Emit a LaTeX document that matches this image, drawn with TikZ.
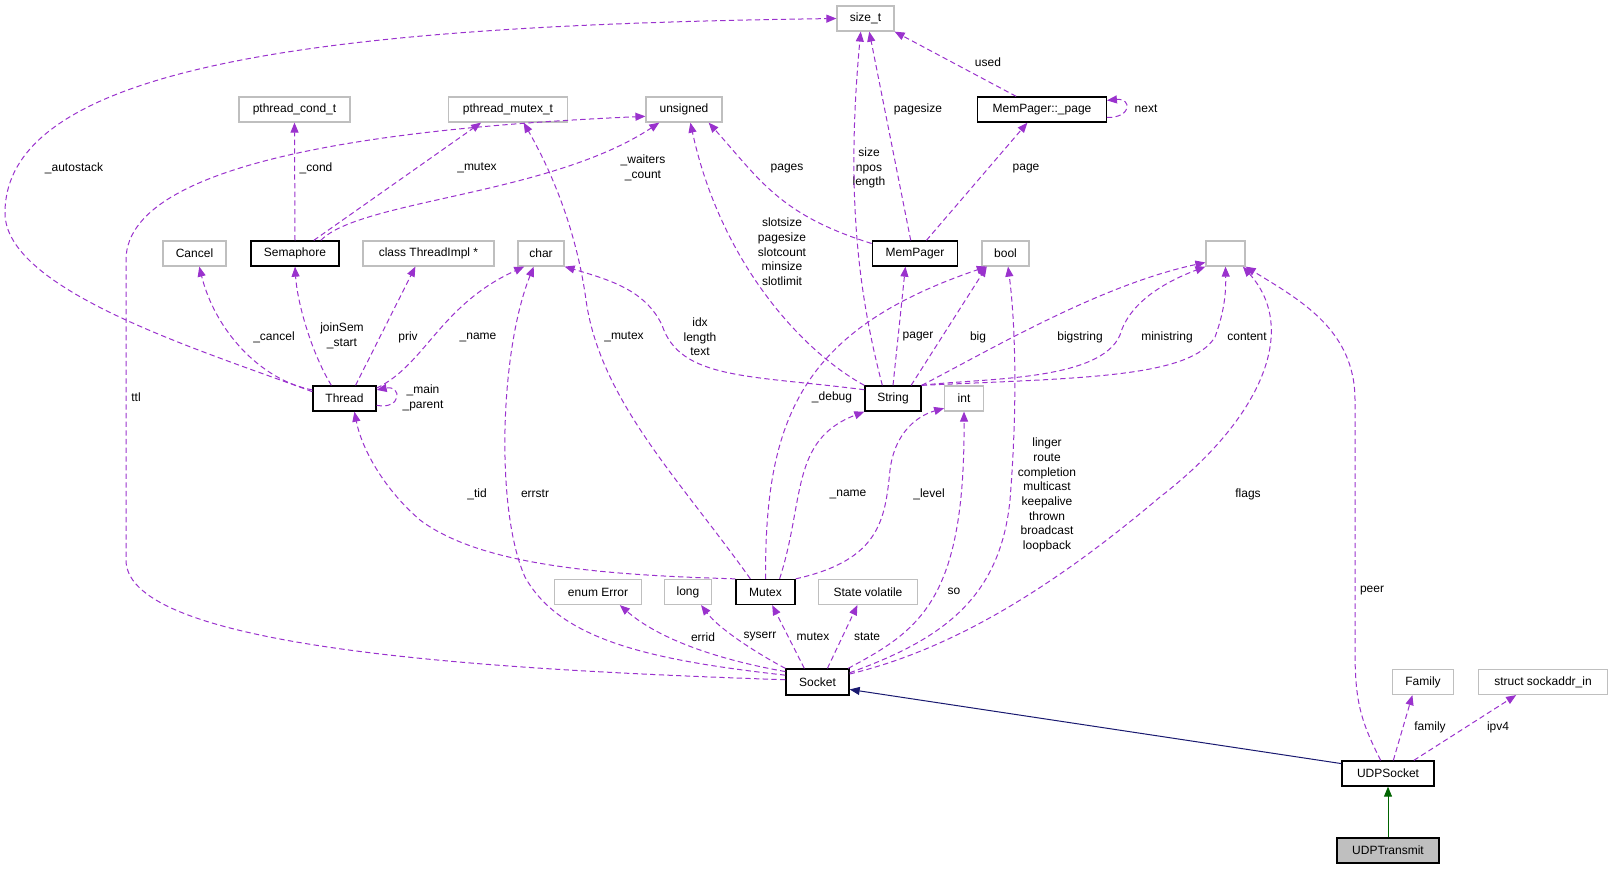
\documentclass[tikz,border=0pt]{standalone}
\usepackage{fontspec}
\setmainfont{Liberation Sans}
\usetikzlibrary{arrows.meta}
\definecolor{usecol}{HTML}{9A32CD}
\definecolor{inhcol}{HTML}{191970}
\definecolor{pubcol}{HTML}{006400}
\definecolor{boxgray}{HTML}{BFBFBF}
\tikzset{
  cls/.style={draw=black, line width=1pt, minimum height=18.75pt, inner sep=0pt, fill=white},
  ext/.style={draw=boxgray, line width=0.9pt, minimum height=18.75pt, inner sep=0pt, fill=white},
  lbl/.style={align=center, inner sep=0pt},
  usage/.style={usecol, line width=0.75pt, dash pattern=on 4pt off 2.5pt, -{Triangle[length=7.5pt,width=6pt]}},
  inherit/.style={line width=0.75pt, -{Triangle[length=7.5pt,width=6pt]}},
}

\begin{document}
\begin{tikzpicture}[x=0.75pt, y=-0.75pt, font=\fontsize{9pt}{11pt}\selectfont]
\useasboundingbox (0,0) rectangle (1614,869);
% classes
\node[ext, minimum width=42.75pt] (sizet) at (865.5,18.5) {size\_t};
\node[ext, minimum width=83.25pt] (condt) at (294.5,109.5) {pthread\_cond\_t};
\node[ext, minimum width=88.9pt] (mutext) at (508,109.5) {pthread\_mutex\_t};
\node[ext, minimum width=57pt] (unsig) at (684,109.5) {unsigned};
\node[cls, minimum width=96.4pt] (page) at (1042,109.5) {MemPager::\_page};
\node[ext, minimum width=47.25pt] (cancel) at (194.5,253.5) {Cancel};
\node[cls, minimum width=66pt] (sem) at (295,253.5) {Semaphore};
\node[ext, minimum width=98.25pt] (timpl) at (428.5,253.5) {class ThreadImpl *};
\node[ext, minimum width=34.5pt] (char) at (541,253.5) {char};
\node[cls, minimum width=64.1pt] (mempager) at (915,253.5) {MemPager};
\node[ext, minimum width=35.25pt] (bool) at (1005.5,253.5) {bool};
\node[ext, minimum width=29.25pt] (blank) at (1225.5,253.5) {};
\node[cls, minimum width=47.25pt] (thread) at (344.5,398.5) {Thread};
\node[cls, minimum width=42pt] (string) at (893,398.5) {String};
\node[ext, minimum width=28.9pt] (int) at (964,398.5) {int};
\node[ext, minimum width=65.6pt] (enumerr) at (598,592) {enum Error};
\node[ext, minimum width=35.6pt] (long) at (688,592) {long};
\node[cls, minimum width=44.25pt] (mutex) at (765.5,592) {Mutex};
\node[ext, minimum width=74.25pt] (state) at (868,592) {State volatile};
\node[cls, minimum width=47.25pt, minimum height=19.5pt] (socket) at (817.5,682) {Socket};
\node[ext, minimum width=46.1pt] (family) at (1423,682) {Family};
\node[ext, minimum width=97.1pt] (sockaddr) at (1543,682) {struct sockaddr\_in};
\node[cls, minimum width=69pt] (udpsocket) at (1388,773.5) {UDPSocket};
\node[cls, fill=boxgray, minimum width=76.5pt] (udptrans) at (1388,850.5) {UDPTransmit};

% member labels
\node[lbl] (l-autostack) at (74,168) {\_autostack};
\node[lbl] (l-cond) at (316,168) {\_cond};
\node[lbl] (l-semmutex) at (477,168) {\_mutex};
\node[lbl] (l-waiters) at (643,168) {\_waiters\\\_count};
\node[lbl] (l-pages) at (787,169) {pages};
\node[lbl] (l-size) at (869,168) {size\\npos\\length};
\node[lbl] (l-pagesize) at (918,109) {pagesize};
\node[lbl] (l-used) at (988,62) {used};
\node[lbl] (l-next) at (1146,109) {next};
\node[lbl] (l-page) at (1026,169) {page};
\node[lbl] (l-slotsize) at (782,252) {slotsize\\pagesize\\slotcount\\minsize\\slotlimit};
\node[lbl] (l-ttl) at (136,397) {ttl};
\node[lbl] (l-cancel) at (274,337) {\_cancel};
\node[lbl] (l-joinsem) at (342,336) {joinSem\\\_start};
\node[lbl] (l-priv) at (408,337) {priv};
\node[lbl] (l-tname) at (478,337) {\_name};
\node[lbl] (l-main) at (423,398) {\_main\\\_parent};
\node[lbl] (l-tid) at (477,494) {\_tid};
\node[lbl] (l-errstr) at (535,494) {errstr};
\node[lbl] (l-mmutex) at (624,337) {\_mutex};
\node[lbl] (l-idx) at (700,337) {idx\\length\\text};
\node[lbl] (l-pager) at (918,337) {pager};
\node[lbl] (l-big) at (978,337) {big};
\node[lbl] (l-bigstring) at (1080,337) {bigstring};
\node[lbl] (l-ministring) at (1167,337) {ministring};
\node[lbl] (l-content) at (1247,337) {content};
\node[lbl] (l-debug) at (832,397) {\_debug};
\node[lbl] (l-linger) at (1047,495) {linger\\route\\completion\\multicast\\keepalive\\thrown\\broadcast\\loopback};
\node[lbl] (l-flags) at (1248,494) {flags};
\node[lbl] (l-mname) at (848,494) {\_name};
\node[lbl] (l-level) at (929,494) {\_level};
\node[lbl] (l-peer) at (1372,591) {peer};
\node[lbl] (l-so) at (954,591) {so};
\node[lbl] (l-errid) at (703,637) {errid};
\node[lbl] (l-syserr) at (760,637) {syserr};
\node[lbl] (l-mutex) at (813,637) {mutex};
\node[lbl] (l-state) at (867,637) {state};
\node[lbl] (l-family) at (1430,727) {family};
\node[lbl] (l-ipv4) at (1498,727) {ipv4};

% usage edges
\draw[usage] (thread.168) .. controls (200,350) and (5,290) .. (5,213) .. controls (5,60) and (350,25) .. (sizet.west);
\draw[usage] (socket.176) .. controls (500,670) and (126,650) .. (126,560) -- (126,260) .. controls (126,150) and (450,125) .. (unsig.190);
\draw[usage] (sem.north) -- (condt.south);
\draw[usage] (sem.35) -- (mutext.206);
\draw[usage] (sem.27) .. controls (360,200) and (550,195) .. (unsig.208);
\draw[usage] (thread.165) .. controls (260,380) and (215,330) .. (cancel.290);
\draw[usage] (thread.135) .. controls (310,350) and (297,300) .. (sem.south);
\draw[usage] (thread.50) -- (timpl.225);
\draw[usage] (thread.18) .. controls (425,365) and (440,305) .. (char.218);
\draw[usage] (thread.348) .. controls (402,410) and (402,385) .. (thread.15);
\draw[usage] (mutex.north west) .. controls (600,575) and (480,565) .. (420,520) .. controls (385,490) and (362,450) .. (thread.307);
\draw[usage] (socket.168) .. controls (650,660) and (560,640) .. (525,577) .. controls (495,510) and (500,350) .. (char.241);
\draw[usage] (mutex.139) .. controls (680,480) and (600,400) .. (586,300) .. controls (575,220) and (545,160) .. (mutext.320);
\draw[usage] (string.163) .. controls (750,375) and (680,380) .. (662,325) .. controls (645,290) and (610,280) .. (char.south east);
\draw[usage] (string.north west) .. controls (800,350) and (720,260) .. (unsig.296);
\draw[usage] (mempager.167) .. controls (780,215) and (760,180) .. (unsig.332);
\draw[usage] (string.129) .. controls (860,300) and (845,200) .. (sizet.250);
\draw[usage] (mempager.108) -- (sizet.286);
\draw[usage] (page.153) -- (sizet.south east);
\draw[usage] (page.353) .. controls (1132,118) and (1132,98) .. (page.8);
\draw[usage] (mempager.49) -- (page.222);
\draw[usage] (string.north) -- (mempager.234);
\draw[usage] (string.36) -- (bool.215);
\draw[usage] (mutex.north) .. controls (765,420) and (800,330) .. (bool.215);
\draw[usage] (string.north east) .. controls (990,350) and (1100,285) .. (blank.204);
\draw[usage] (string.north east) .. controls (980,378) and (1100,382) .. (1120,335) .. controls (1130,300) and (1170,280) .. (blank.south west);
\draw[usage] (string.north east) .. controls (1080,378) and (1190,378) .. (1215,337) .. controls (1225,310) and (1226,290) .. (blank.south);
\draw[usage] (socket.14) .. controls (950,650) and (1050,590) .. (1160,497) .. controls (1260,420) and (1300,330) .. (blank.323);
\draw[usage] (udpsocket.119) .. controls (1360,720) and (1355,700) .. (1355,650) -- (1355,400) .. controls (1355,330) and (1300,300) .. (blank.south east);
\draw[usage] (socket.134) -- (mutex.297);
\draw[usage] (socket.north west) .. controls (760,655) and (720,630) .. (long.315);
\draw[usage] (socket.162) .. controls (720,660) and (660,640) .. (enumerr.329);
\draw[usage] (socket.54) -- (state.231);
\draw[usage] (socket.24) .. controls (920,630) and (965,600) .. (int.south);
\draw[usage] (socket.16) .. controls (940,640) and (1000,600) .. (1010,500) .. controls (1018,400) and (1015,320) .. (bool.281);
\draw[usage] (mutex.43) .. controls (805,500) and (790,440) .. (string.south west);
\draw[usage] (mutex.north east) .. controls (880,560) and (885,520) .. (890,470) .. controls (895,430) and (920,415) .. (int.206);
\draw[usage] (udpsocket.68) -- (family.231);
\draw[usage] (udpsocket.27) -- (sockaddr.206);

% inheritance
\draw[inherit, inhcol] (udpsocket.168) -- (socket.347);
\draw[inherit, pubcol] (udptrans.north) -- (udpsocket.south);
\end{tikzpicture}
\end{document}
